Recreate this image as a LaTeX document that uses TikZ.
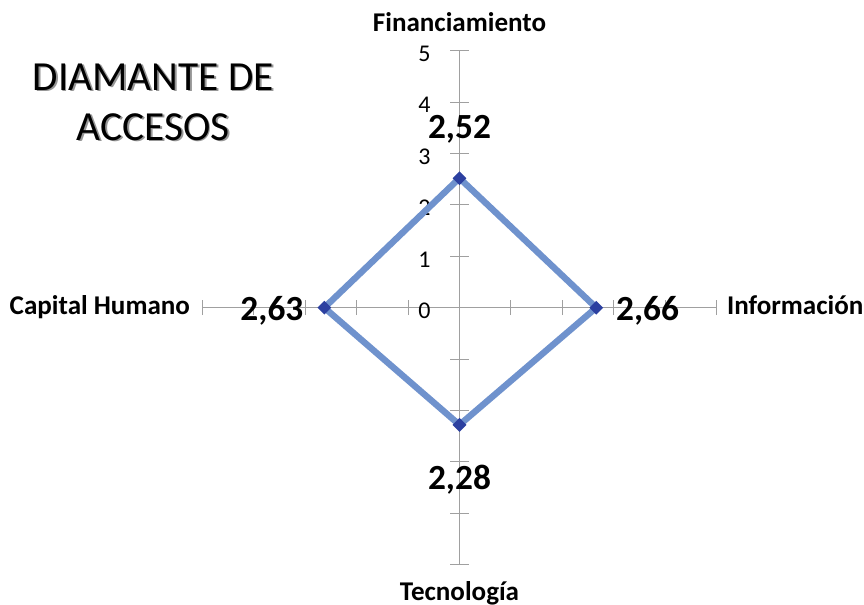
\documentclass[tikz,border=0pt]{standalone}
\usepackage{fontspec}
\setmainfont{Carlito}
\usepackage{tikz}
\usetikzlibrary{shapes.geometric,positioning}
\usepackage{xcolor}
\definecolor{dmline}{RGB}{111,146,205}
\definecolor{dmmark}{RGB}{44,64,160}
\definecolor{dmaxis}{RGB}{160,160,160}
\definecolor{dmshadow}{RGB}{150,150,150}
\tikzstyle{axisline} = [line width=0.75pt, color=dmaxis]
\tikzstyle{axislabel} = [font=\fontsize{20.3}{24}\selectfont\bfseries, inner sep=0pt]
\tikzstyle{valuelabel} = [font=\fontsize{26.5}{30}\selectfont\bfseries, inner sep=0pt]
\tikzstyle{ticklabel} = [font=\fontsize{18}{21}\selectfont, inner sep=0pt, anchor=east]
\tikzstyle{datapoint} = [diamond, fill=dmmark, inner sep=0pt, minimum width=10.5pt, minimum height=10.5pt]

\begin{document}
\begin{tikzpicture}[x=38.55pt, y=38.55pt]
    \useasboundingbox (-8.94,-5.784) rectangle (7.87,5.986);

    % Axis ends
    \coordinate (center) at (0,0);
    \coordinate (top) at (0,5);
    \coordinate (bottom) at (0,-5);
    \coordinate (left) at (-5,0);
    \coordinate (right) at (5,0);

    % Axes
    \draw[axisline] (top) -- (bottom);
    \draw[axisline] (left) -- (right);

    % Ticks
    \foreach \k in {-5,...,5} {
        \draw[axisline] (\k,-0.146) -- (\k,0.146);
        \draw[axisline] (-0.176,\k) -- (0.176,\k);
    }

    % Tick labels
    \foreach \k in {0,...,5} {
        \node[ticklabel] (tick\k) at (-0.56,\k-0.06) {\k};
    }

    % Data points
    \coordinate (fin) at (0,2.52);
    \coordinate (inf) at (2.66,0);
    \coordinate (tec) at (0,-2.28);
    \coordinate (cap) at (-2.63,0);

    % Series line
    \draw[line width=4.8pt, dmline, line join=miter] (fin) -- (inf) -- (tec) -- (cap) -- cycle;

    % Markers
    \node[datapoint] (mfin) at (fin) {};
    \node[datapoint] (minf) at (inf) {};
    \node[datapoint] (mtec) at (tec) {};
    \node[datapoint] (mcap) at (cap) {};

    % Value labels
    \node[valuelabel, anchor=base] (vfin) at (0,3.30) {2,52};
    \node[valuelabel, anchor=base] (vinf) at (3.66,-0.24) {2,66};
    \node[valuelabel, anchor=base] (vtec) at (0,-3.53) {2,28};
    \node[valuelabel, anchor=base] (vcap) at (-3.65,-0.24) {2,63};

    % Axis labels
    \node[axislabel, anchor=base] (lfin) at (0,5.38) {Financiamiento};
    \node[axislabel, anchor=base west] (linf) at (5.20,-0.14) {Información};
    \node[axislabel, anchor=base] (ltec) at (0,-5.69) {Tecnología};
    \node[axislabel, anchor=base east] (lcap) at (-5.24,-0.14) {Capital Humano};

    % Title
    \node[font=\fontsize{31}{37.5}\selectfont, align=center, text=dmshadow, anchor=base] (titleshadow) at (-5.925,3.225) {DIAMANTE DE\\ACCESOS};
    \node[font=\fontsize{31}{37.5}\selectfont, align=center, anchor=base] (title) at (-5.96,3.26) {DIAMANTE DE\\ACCESOS};
\end{tikzpicture}
\end{document}
